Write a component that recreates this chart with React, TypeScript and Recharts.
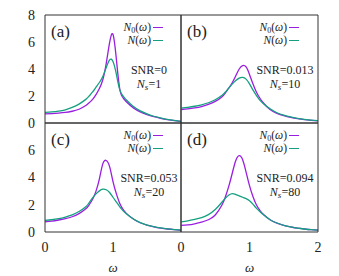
import React from "react"
import { LineChart, Line, XAxis, YAxis } from "recharts"

// frequency grid shared by all four panels
const omega = [0, 0.1, 0.2, 0.3, 0.4, 0.5, 0.6, 0.65, 0.7, 0.75, 0.8, 0.85, 0.9, 0.95, 1.0, 1.05, 1.1, 1.15, 1.2, 1.3, 1.4, 1.5, 1.6, 1.7, 1.8, 1.9, 2.0]

// (a) SNR=0, Ns=1
const aN0 = [0.68, 0.7, 0.73, 0.78, 0.87, 1.02, 1.3, 1.5, 1.75, 2.1, 2.55, 3.2, 4.4, 5.95, 6.55, 4.7, 2.5, 1.85, 1.55, 1.12, 0.83, 0.62, 0.47, 0.35, 0.25, 0.17, 0.11]
const aN = [0.78, 0.82, 0.88, 0.98, 1.15, 1.4, 1.75, 2.0, 2.3, 2.65, 3.0, 3.45, 4.1, 4.68, 4.55, 3.6, 2.45, 1.98, 1.68, 1.22, 0.9, 0.68, 0.5, 0.38, 0.27, 0.19, 0.12]

// (b) SNR=0.013, Ns=10
const bN0 = [1.0, 1.05, 1.12, 1.22, 1.38, 1.6, 1.95, 2.25, 2.6, 3.0, 3.5, 4.0, 4.25, 4.15, 3.6, 2.9, 2.3, 1.85, 1.5, 1.0, 0.72, 0.55, 0.42, 0.32, 0.25, 0.2, 0.16]
const bN = [1.1, 1.16, 1.24, 1.35, 1.5, 1.72, 2.05, 2.3, 2.6, 2.9, 3.15, 3.33, 3.38, 3.25, 2.9, 2.45, 2.05, 1.7, 1.45, 1.05, 0.76, 0.58, 0.45, 0.35, 0.27, 0.21, 0.17]

// (c) SNR=0.053, Ns=20
const cN0 = [0.75, 0.8, 0.88, 0.98, 1.12, 1.35, 1.7, 2.0, 2.4, 3.0, 3.9, 5.0, 5.25, 4.8, 3.7, 2.8, 2.1, 1.65, 1.35, 0.95, 0.68, 0.5, 0.38, 0.29, 0.22, 0.17, 0.13]
const cN = [0.85, 0.9, 0.98, 1.1, 1.26, 1.5, 1.85, 2.15, 2.5, 2.8, 3.02, 3.14, 3.1, 2.9, 2.55, 2.2, 1.85, 1.55, 1.32, 0.95, 0.69, 0.51, 0.39, 0.3, 0.23, 0.18, 0.14]

// (d) SNR=0.094, Ns=80
const dN0 = [0.48, 0.52, 0.6, 0.72, 0.9, 1.25, 2.0, 2.6, 3.4, 4.35, 5.25, 5.6, 5.3, 4.4, 3.4, 2.6, 2.0, 1.6, 1.3, 0.9, 0.65, 0.48, 0.37, 0.28, 0.22, 0.17, 0.13]
const dN = [0.75, 0.82, 0.92, 1.05, 1.28, 1.65, 2.2, 2.5, 2.72, 2.82, 2.75, 2.65, 2.55, 2.45, 2.3, 2.05, 1.75, 1.5, 1.28, 0.9, 0.66, 0.49, 0.37, 0.28, 0.22, 0.17, 0.13]

const xTicks = [0, 0.5, 1, 1.5, 2]
const yTicks = [0, 1, 2, 3, 4, 5, 6, 7, 8]

const W = 339
const H = 276
const PURPLE = "#9a1ee0"
const TEAL = "#14a080"
const FRAME = "#333"
const SERIF = "'Liberation Serif', 'DejaVu Serif', serif"

interface PanelProps {
  n0: number[]
  n: number[]
  letter: string
  snr: string
  ns: string
  box: { left: number; top: number; right: number; bottom: number }
  yLabels?: number[]
  xLabels?: number[]
}

const Sub: React.FC<{ children: React.ReactNode; italic?: boolean; size: number }> = ({ children, italic, size }) => (
  <span style={{ fontSize: size, position: "relative", top: 2, fontStyle: italic ? "italic" : "normal" }}>{children}</span>
)

const Panel: React.FC<PanelProps> = ({ n0, n, letter, snr, ns, box, yLabels, xLabels }) => {
  const data = omega.map((w, i) => ({ w, n0: n0[i], n: n[i] }))
  const yLabW = 40
  const xLabH = 42
  const margin = {
    top: box.top,
    left: yLabels ? box.left - yLabW : box.left,
    right: W - box.right,
    bottom: xLabels ? H - box.bottom - xLabH : H - box.bottom,
  }
  const tickFont = { fontSize: 14, fill: "#222", fontFamily: SERIF }
  const frameProps = {
    type: "number" as const,
    allowDataOverflow: true,
    mirror: true,
    tick: false,
    tickSize: 4,
    axisLine: { stroke: FRAME },
    tickLine: { stroke: FRAME },
  }
  const legendText: React.CSSProperties = {
    position: "absolute",
    fontFamily: SERIF,
    fontSize: 11.5,
    color: "#222",
    lineHeight: "12px",
    height: 12,
    whiteSpace: "nowrap",
    textAlign: "right",
  }
  const paramText: React.CSSProperties = {
    position: "absolute",
    left: box.left + 54,
    width: 100,
    fontFamily: SERIF,
    fontSize: 12,
    lineHeight: "13px",
    height: 13,
    color: "#222",
    textAlign: "center",
  }

  return (
    <>
      <div style={{ position: "absolute", left: 0, top: 0 }}>
        <LineChart width={W} height={H} data={data} margin={margin}>
          <XAxis xAxisId="b" dataKey="w" domain={[0, 2]} ticks={xTicks} orientation="bottom" {...frameProps} />
          <XAxis xAxisId="t" dataKey="w" domain={[0, 2]} ticks={xTicks} orientation="top" {...frameProps} />
          <YAxis yAxisId="l" dataKey="n0" domain={[0, 8]} ticks={yTicks} orientation="left" {...frameProps} />
          <YAxis yAxisId="r" dataKey="n0" domain={[0, 8]} ticks={yTicks} orientation="right" {...frameProps} />
          {xLabels && (
            <XAxis
              xAxisId="xl"
              dataKey="w"
              type="number"
              domain={[0, 2]}
              ticks={xLabels}
              height={xLabH}
              axisLine={false}
              tickLine={false}
              tickSize={8}
              tickMargin={2}
              tick={tickFont}
              label={{ value: "ω", position: "insideBottom", offset: 2, fontSize: 13, fontStyle: "italic", fill: "#222", fontFamily: SERIF }}
            />
          )}
          {yLabels && (
            <YAxis
              yAxisId="yl"
              dataKey="n0"
              type="number"
              domain={[0, 8]}
              allowDataOverflow
              ticks={yLabels}
              width={yLabW}
              orientation="left"
              axisLine={false}
              tickLine={false}
              tickSize={8}
              tickMargin={2}
              tick={tickFont}
            />
          )}
          <Line xAxisId="b" yAxisId="l" type="natural" dataKey="n0" stroke={PURPLE} strokeWidth={1.3} dot={false} isAnimationActive={false} />
          <Line xAxisId="b" yAxisId="l" type="natural" dataKey="n" stroke={TEAL} strokeWidth={1.3} dot={false} isAnimationActive={false} />
        </LineChart>
      </div>

      {/* panel letter */}
      <div style={{ position: "absolute", left: box.left + 6, top: box.top + 7, fontFamily: SERIF, fontSize: 17, lineHeight: "19px", color: "#222" }}>
        ({letter})
      </div>

      {/* key */}
      <div style={{ ...legendText, right: W - (box.left + 106), top: box.top + 6 }}>
        <i>N</i><Sub size={8}>0</Sub>(<i>ω</i>)
      </div>
      <div style={{ position: "absolute", left: box.left + 108, top: box.top + 12, width: 10, height: 0, borderTop: `1.3px solid ${PURPLE}` }} />
      <div style={{ ...legendText, right: W - (box.left + 106), top: box.top + 19 }}>
        <i>N</i>(<i>ω</i>)
      </div>
      <div style={{ position: "absolute", left: box.left + 108, top: box.top + 25, width: 10, height: 0, borderTop: `1.3px solid ${TEAL}` }} />

      {/* parameters */}
      <div style={{ ...paramText, top: box.top + 49 }}>SNR={snr}</div>
      <div style={{ ...paramText, top: box.top + 63 }}>
        <i>N</i><Sub size={9} italic>s</Sub>={ns}
      </div>
    </>
  )
}

export default function App() {
  return (
    <div style={{ position: "absolute", left: 0, top: 0, width: W, height: H, background: "#fff", overflow: "hidden" }}>
      <Panel n0={aN0} n={aN} letter="a" snr="0" ns="1" box={{ left: 45, top: 15, right: 181, bottom: 123 }} yLabels={[0, 2, 4, 6, 8]} />
      <Panel n0={bN0} n={bN} letter="b" snr="0.013" ns="10" box={{ left: 181, top: 15, right: 318, bottom: 123 }} />
      <Panel n0={cN0} n={cN} letter="c" snr="0.053" ns="20" box={{ left: 45, top: 123, right: 181, bottom: 232 }} yLabels={[0, 2, 4, 6]} xLabels={[0, 1]} />
      <Panel n0={dN0} n={dN} letter="d" snr="0.094" ns="80" box={{ left: 181, top: 123, right: 318, bottom: 232 }} xLabels={[0, 1, 2]} />
    </div>
  )
}
